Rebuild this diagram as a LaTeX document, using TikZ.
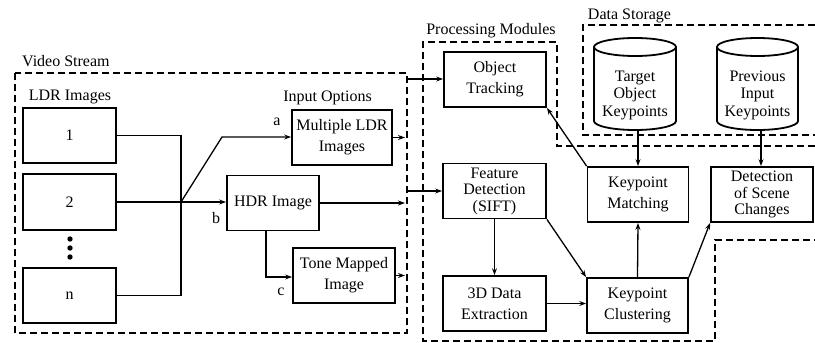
\documentclass[tikz,border=0pt]{standalone}
\usepackage{fontspec}
\setmainfont{Liberation Serif}
\usetikzlibrary{arrows.meta}
\begin{document}
\begin{tikzpicture}[x=1pt,y=-1pt,
  >={Stealth[length=7pt,width=5pt,inset=2.5pt]},
  box/.style={draw, line width=1.8pt, align=center, inner sep=0pt, font=\fontsize{16}{21}\selectfont},
  tight/.style={font=\fontsize{16}{16.5}\selectfont},
  cyltext/.style={align=center, inner sep=0pt, font=\fontsize{16}{17.5}\selectfont},
  cylline/.style={line width=1.8pt},
  conn/.style={line width=1.3pt, ->},
  plain/.style={line width=1.3pt},
  region/.style={line width=1.8pt, dash pattern=on 7pt off 4pt},
  lbl/.style={font=\fontsize{16}{18}\selectfont, inner sep=0pt}]
\useasboundingbox (0,0) rectangle (815,343);

% regions
\draw[region] (15,73) rectangle (407,333);
\node[lbl, anchor=west] (vslbl) at (22,61) {Video Stream};
\draw[region] (815,146) -- (557,146) -- (557,42) -- (423,42) -- (423,341) -- (715,341) -- (715,240) -- (815,240);
\node[lbl] (pmlbl) at (491,31) {Processing Modules};
\draw[region] (815,25) -- (583,25) -- (583,135) -- (815,135);
\node[lbl] (dslbl) at (629.5,16) {Data Storage};

% video stream contents
\node[lbl] (ldrlbl) at (70,97) {LDR Images};
\node[lbl] (iolbl) at (327.5,98) {Input Options};
\node[box, minimum width=93, minimum height=55] (b1) at (69.5,135.5) {1};
\node[box, minimum width=93, minimum height=56] (b2) at (69.5,202) {2};
\node[box, minimum width=93, minimum height=55] (bn) at (69.5,295.5) {n};
\fill (70,239) circle[radius=2.7];
\fill (70,248) circle[radius=2.7];
\fill (70,257) circle[radius=2.7];

\node[box, minimum width=100, minimum height=55] (mldr) at (342,137.5) {Multiple LDR\\Images};
\node[box, minimum width=92, minimum height=55] (hdr) at (273,203) {HDR Image};
\node[box, minimum width=102, minimum height=55] (tone) at (344,275.5) {Tone Mapped\\Image};

\coordinate (J) at (181,202);
\coordinate (K) at (222,137);
\coordinate (T) at (266,277);
\coordinate (vsE) at (405,0);
\draw[plain] (b1.east) -| (J);
\draw[plain] (bn.east) -| (J);
\draw[plain] (b2.east) -- (J);
\draw[conn] (J) -- (K) -- (K -| mldr.west);
\draw[conn] (J) -- (J -| hdr.west);
\draw[conn] (hdr.south -| T) |- (T -| tone.west);
\node[lbl] (la) at (277,122) {a};
\node[lbl] (lb) at (216,218) {b};
\node[lbl] (lc) at (281,292) {c};
\draw[conn] (mldr.east) -- (mldr.east -| vsE);
\draw[conn] (hdr.east) -- (hdr.east -| vsE);
\draw[conn] (tone.east) -- (tone.east -| vsE);

% processing modules
\node[box, minimum width=102, minimum height=55] (ot) at (495,79.5) {Object\\Tracking};
\node[box, tight, minimum width=103, minimum height=55] (fd) at (494.5,191) {Feature\\Detection\\(SIFT)};
\node[box, minimum width=103, minimum height=55] (dd) at (494.5,303.5) {3D Data\\Extraction};
\node[box, minimum width=101, minimum height=55] (kc) at (637.5,305.5) {Keypoint\\Clustering};
\node[box, minimum width=101, minimum height=55] (km) at (638,194.5) {Keypoint\\Matching};
\node[box, tight, minimum width=102, minimum height=55] (det) at (762,194.5) {Detection\\of Scene\\Changes};

\coordinate (vsA) at (407,79);
\coordinate (vsB) at (407,191);
\draw[conn] (vsA) -- (vsA -| ot.west);
\draw[conn] (vsB) -- (vsB -| fd.west);

% data storage cylinders
\draw[cylline] (594,47) -- (594,121) arc[start angle=180,end angle=0,x radius=41,y radius=9] -- (676,47);
\draw[cylline] (635,47) ellipse[x radius=41,y radius=9];
\node[cyltext] (tok) at (635,95) {Target\\Object\\Keypoints};
\draw[cylline] (717,47) -- (717,121) arc[start angle=180,end angle=0,x radius=40.5,y radius=9] -- (798,47);
\draw[cylline] (757.5,47) ellipse[x radius=40.5,y radius=9];
\node[cyltext] (pik) at (757.5,95) {Previous\\Input\\Keypoints};
\coordinate (tokb) at (638,130);
\coordinate (pikb) at (761,130);

% connectors
\draw[conn] (tokb) -- (tokb |- km.north);
\draw[conn] (pikb) -- (pikb |- det.north);
\draw[conn] (km.north west) -- (ot.south east);
\draw[conn] (fd.south) -- (dd.north);
\draw[conn] (fd.south east) -- (kc.north west);
\draw[conn] (dd.east) -- (dd.east -| kc.west);
\draw[conn] (kc.north) -- (km.south);
\draw[conn] (kc.north east) -- (det.south west);
\end{tikzpicture}
\end{document}
